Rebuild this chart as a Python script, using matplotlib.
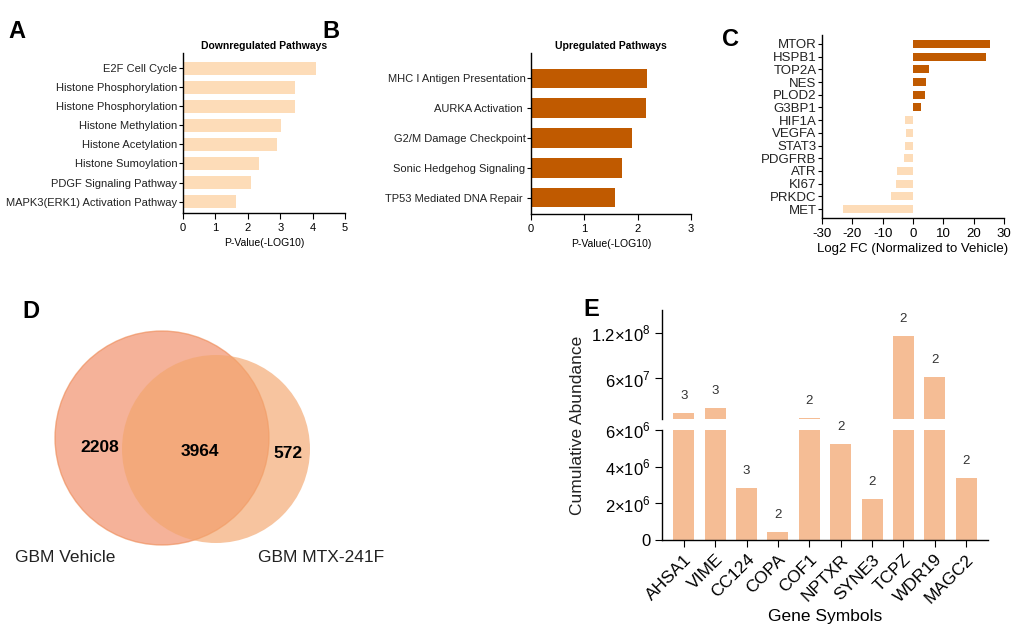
import matplotlib
matplotlib.use('Agg')
import matplotlib.pyplot as plt
from matplotlib.patches import Circle
import numpy as np

plt.rcParams['font.family'] = ['Liberation Sans', 'DejaVu Sans']
plt.rcParams['mathtext.fontset'] = 'custom'
plt.rcParams['mathtext.rm'] = 'Liberation Sans'
plt.rcParams['axes.linewidth'] = 1.0

# ---- data ----
down_paths = ['E2F Cell Cycle', 'Histone Phosphorylation', 'Histone Phosphorylation',
              'Histone Methylation', 'Histone Acetylation', 'Histone Sumoylation',
              'PDGF Signaling Pathway', 'MAPK3(ERK1) Activation Pathway']
down_vals = [4.11, 3.46, 3.46, 3.02, 2.89, 2.35, 2.09, 1.65]

up_paths = ['MHC I Antigen Presentation', 'AURKA Activation ', 'G2/M Damage Checkpoint',
            'Sonic Hedgehog Signaling', 'TP53 Mediated DNA Repair ']
up_vals = [2.18, 2.16, 1.89, 1.70, 1.58]

genes_c = ['MTOR', 'HSPB1', 'TOP2A', 'NES', 'PLOD2', 'G3BP1', 'HIF1A', 'VEGFA',
           'STAT3', 'PDGFRB', 'ATR', 'KI67', 'PRKDC', 'MET']
fc_c = [25.3, 24.2, 5.2, 4.4, 4.1, 2.6, -2.5, -2.3, -2.6, -3.0, -5.3, -5.5, -7.1, -23.1]

venn_counts = [2208, 3964, 572]
venn_names = ['GBM Vehicle', 'GBM MTX-241F']

genes_e = ['AHSA1', 'VIME', 'CC124', 'COPA', 'COF1', 'NPTXR', 'SYNE3', 'TCPZ', 'WDR19', 'MAGC2']
abund_e = [1.4e7, 2.1e7, 2.82e6, 0.45e6, 7.7e6, 5.24e6, 2.24e6, 1.15e8, 6.1e7, 3.36e6]
count_e = [3, 3, 3, 2, 2, 2, 2, 2, 2, 2]

DARK = '#C05A00'
LIGHT = '#FDDCB8'
SALMON = '#F5BD95'

W, H = 1024, 640
fig = plt.figure(figsize=(W / 100, H / 100), dpi=100)


def px_axes(x0, y0, x1, y1):
    # axes from pixel box (top-left origin)
    return fig.add_axes([x0 / W, 1 - y1 / H, (x1 - x0) / W, (y1 - y0) / H])


def style_hbar(ax):
    ax.spines['top'].set_visible(False)
    ax.spines['right'].set_visible(False)


# ---- A ----
axA = px_axes(183, 53, 345, 213)
yA = np.arange(len(down_vals))
axA.barh(yA, down_vals, height=0.7, color=LIGHT)
axA.set_yticks(yA)
axA.set_yticklabels(down_paths, fontsize=8, color='#222222')
axA.set_ylim(len(down_vals) - 0.4, -0.8)
axA.set_xlim(0, 5)
axA.set_xticks(range(6))
axA.tick_params(axis='x', labelsize=8, length=4)
axA.tick_params(axis='y', length=3, pad=1)
axA.set_xlabel('P-Value(-LOG10)', fontsize=7.5, labelpad=3)
axA.set_title('Downregulated Pathways', fontsize=7.5, fontweight='bold', pad=3)
style_hbar(axA)

# ---- B ----
axB = px_axes(531, 53, 691, 214)
yB = np.arange(len(up_vals))
axB.barh(yB, up_vals, height=0.66, color=DARK)
axB.set_yticks(yB)
axB.set_yticklabels(up_paths, fontsize=8, color='#222222')
axB.set_ylim(len(up_vals) - 0.45, -0.85)
axB.set_xlim(0, 3)
axB.set_xticks(range(4))
axB.tick_params(axis='x', labelsize=8, length=4)
axB.tick_params(axis='y', length=3, pad=1)
axB.set_xlabel('P-Value(-LOG10)', fontsize=7.5, labelpad=3)
axB.set_title('Upregulated Pathways', fontsize=7.5, fontweight='bold', pad=3)
style_hbar(axB)

# ---- C ----
axC = px_axes(822, 35, 1004, 218)
yC = np.arange(len(fc_c))
colsC = [DARK if v > 0 else LIGHT for v in fc_c]
axC.barh(yC, fc_c, height=0.62, color=colsC)
axC.set_yticks(yC)
axC.set_yticklabels(genes_c, fontsize=9.5, color='#222222')
axC.set_ylim(len(fc_c) - 0.3, -0.7)
axC.set_xlim(-30, 30)
axC.set_xticks(range(-30, 31, 10))
axC.set_xticklabels(['-30', '-20', '-10', '0', '10', '20', '30'])
axC.tick_params(axis='x', labelsize=9.5, length=4)
axC.tick_params(axis='y', length=3, pad=1)
axC.set_xlabel('Log2 FC (Normalized to Vehicle)', fontsize=9.5, labelpad=2)
style_hbar(axC)

# ---- D (Venn) ----
axD = px_axes(0, 300, 400, 600)
axD.set_xlim(0, 400)
axD.set_ylim(600, 300)
axD.set_aspect('equal')
axD.axis('off')
axD.add_patch(Circle((162, 438), 107, facecolor='#F0845A', alpha=0.62,
                     edgecolor='#EE8A55', lw=1.0))
axD.add_patch(Circle((216, 449), 94, facecolor='#F3A56C', alpha=0.65,
                     edgecolor='none'))
venn_xy = [(100, 448), (200, 451), (288, 454)]
for (x, y), n in zip(venn_xy, venn_counts):
    axD.text(x, y, str(n), fontsize=12.5, fontweight='bold', ha='center', va='center')
axD.text(15, 557, venn_names[0], fontsize=12.5, ha='left', va='center', color='#222222')
axD.text(258, 557, venn_names[1], fontsize=12.5, ha='left', va='center', color='#222222')

# ---- E (broken y axis) ----
break_lo = 6e6
axEt = px_axes(662, 310, 988, 419)
axEb = px_axes(662, 430, 988, 540)
xE = np.arange(len(genes_e))
for ax in (axEt, axEb):
    ax.bar(xE, abund_e, width=0.67, color=SALMON)
    ax.set_xlim(-0.7, 9.7)
    ax.spines['top'].set_visible(False)
    ax.spines['right'].set_visible(False)
    ax.tick_params(axis='y', labelsize=12, length=5)
axEt.set_ylim(break_lo, 1.5e8)
axEb.set_ylim(0, break_lo)
axEt.spines['bottom'].set_visible(False)
axEt.set_xticks([])
axEt.set_yticks([6e7, 1.2e8])
axEt.set_yticklabels([r'$6{\times}10^{7}$', r'$1.2{\times}10^{8}$'])
axEb.set_yticks([0, 2e6, 4e6, 6e6])
axEb.set_yticklabels(['0', r'$2{\times}10^{6}$', r'$4{\times}10^{6}$', r'$6{\times}10^{6}$'])
axEb.set_xticks(xE)
axEb.set_xticklabels(genes_e, rotation=45, ha='right', rotation_mode='anchor', fontsize=12.5)
axEb.tick_params(axis='x', length=5)
axEb.set_xlabel('Gene Symbols', fontsize=12.5, labelpad=2)
for xi, v, c in zip(xE, abund_e, count_e):
    ax = axEt if v > break_lo else axEb
    ax.annotate(str(c), (xi, v), xytext=(0, 8), textcoords='offset points',
                ha='center', va='bottom', fontsize=9.5, color='#333333')
fig.text(578 / W, 1 - 425 / H, 'Cumulative Abundance', rotation=90, fontsize=12.5,
         ha='center', va='center', color='#222222')

# ---- panel letters ----
for lab, x, y in [('A', 8, 32), ('B', 322, 32), ('C', 722, 40), ('D', 22, 312), ('E', 583, 310)]:
    fig.text(x / W, 1 - y / H, lab, fontsize=17, fontweight='bold', ha='left', va='center')

fig.savefig('out.png', dpi=100)
